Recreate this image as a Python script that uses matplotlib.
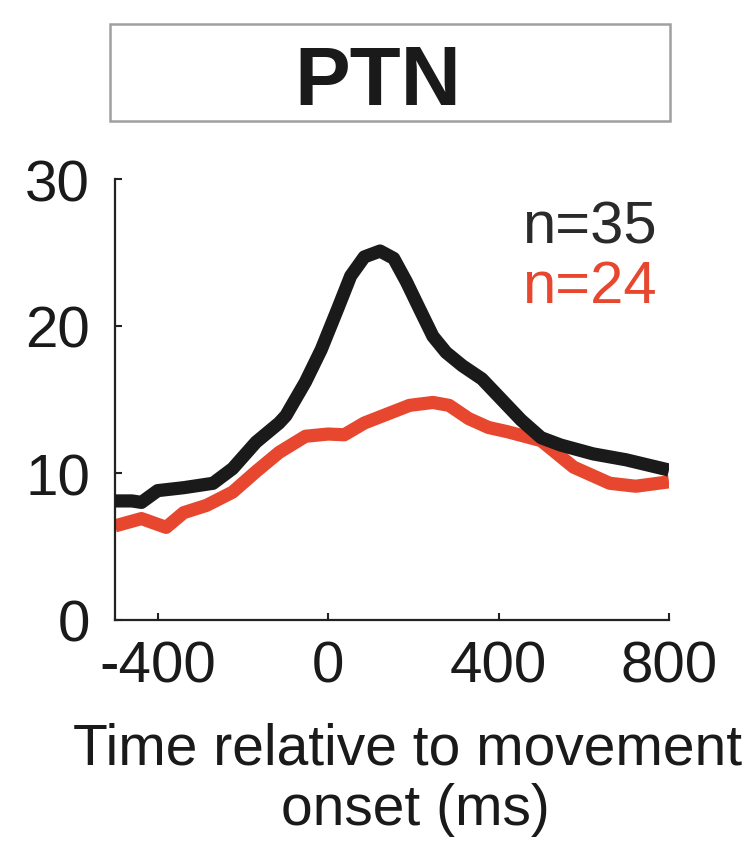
import matplotlib
matplotlib.use("Agg")
import matplotlib.pyplot as plt
from matplotlib.patches import Rectangle

plt.rcParams['font.family'] = ['Liberation Sans', 'DejaVu Sans']
plt.rcParams['axes.unicode_minus'] = False

# time (ms) and mean firing rate
t_black = [-500, -460, -438, -400, -339, -270, -224, -169, -115, -99, -53, -16, 23, 53, 85,
           122, 154, 184, 214, 246, 277, 315, 361, 407, 453, 500, 546, 622, 699, 800]
rate_black = [8.1, 8.1, 8.0, 8.8, 9.0, 9.3, 10.3, 12.1, 13.4, 13.9, 16.2, 18.4, 21.2, 23.4, 24.7,
              25.1, 24.6, 23.0, 21.2, 19.3, 18.2, 17.3, 16.4, 15.0, 13.6, 12.4, 11.9, 11.3, 10.9, 10.2]

t_red = [-500, -438, -380, -339, -285, -224, -169, -115, -53, 0, 38, 85, 138, 191, 246,
         284, 330, 376, 422, 500, 576, 661, 722, 800]
rate_red = [6.4, 6.9, 6.3, 7.3, 7.8, 8.7, 10.1, 11.4, 12.5, 12.65, 12.6, 13.4, 14.0, 14.6, 14.8,
            14.6, 13.7, 13.1, 12.8, 12.2, 10.4, 9.3, 9.1, 9.4]

n_labels = ["n=35", "n=24"]
x_ticks = [-400, 0, 400, 800]
y_ticks = [0, 10, 20, 30]

black = '#1a1a1a'
red = '#e8472f'

fig = plt.figure(figsize=(7.55, 8.53), dpi=100)
ax = fig.add_axes([115 / 755, 1 - 621 / 853, (669 - 115) / 755, (621 - 180) / 853])

ax.plot(t_black, rate_black, color=black, lw=9.5, solid_capstyle='butt',
        solid_joinstyle='round', zorder=3)
ax.plot(t_red, rate_red, color=red, lw=9.5, solid_capstyle='butt',
        solid_joinstyle='round', zorder=2)

ax.set_xlim(-500, 800)
ax.set_ylim(0, 30)
ax.set_xticks(x_ticks)
ax.set_yticks(y_ticks)
for s in ['top', 'right']:
    ax.spines[s].set_visible(False)
for s in ['left', 'bottom']:
    ax.spines[s].set_color('#222222')
    ax.spines[s].set_linewidth(1.6)
ax.tick_params(direction='in', length=5, width=1.5, color='#222222', labelsize=42,
               labelcolor='#1a1a1a')
ax.tick_params(axis='y', pad=18)
ax.tick_params(axis='x', pad=14)

ax.text(0.978, 0.857, n_labels[0], transform=ax.transAxes, ha='right', va='baseline',
        fontsize=43, color='#2a2a2a')
ax.text(0.978, 0.721, n_labels[1], transform=ax.transAxes, ha='right', va='baseline',
        fontsize=43, color=red)

fig.text(408 / 755, 1 - 765 / 853, "Time relative to movement", ha='center', va='baseline',
         fontsize=41, color='#1a1a1a')
fig.text(415 / 755, 1 - 825 / 853, "onset (ms)", ha='center', va='baseline',
         fontsize=41, color='#1a1a1a')

# title box
fig.patches.append(Rectangle((110 / 755, 1 - 122 / 853), 560 / 755, 97 / 853,
                             transform=fig.transFigure, fill=False, edgecolor='#a0a0a0', lw=1.8))
fig.text(378 / 755, 1 - 105 / 853, "PTN", ha='center', va='baseline', fontsize=60,
         fontweight='bold', color='#1a1a1a')

fig.savefig('out.png', dpi=100)
